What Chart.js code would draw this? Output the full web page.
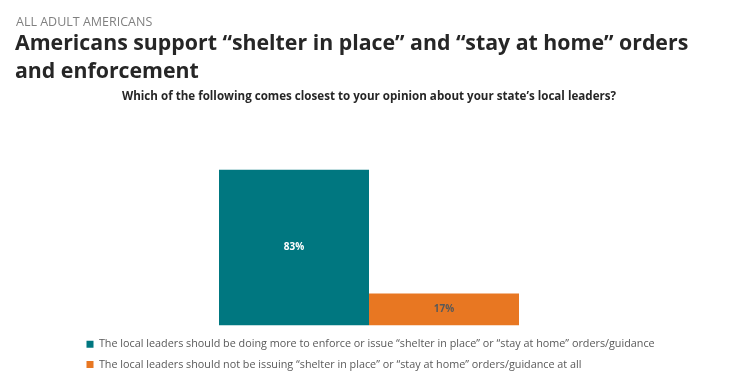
<!DOCTYPE html>
<html>
<head>
<meta charset="utf-8">
<script src="https://cdn.jsdelivr.net/npm/chart.js@4"></script>
<style>
  body { margin: 0; background: #fff; width: 741px; height: 380px; overflow: hidden; position: relative; font-family: "Open Sans", "Noto Sans", sans-serif; }
  #kicker { position: absolute; left: 16px; top: 13px; font-size: 12.5px; color: #808080; white-space: nowrap; }
  #title { position: absolute; left: 15px; top: 28px; font-size: 21.3px; line-height: 28px; font-weight: 700; color: #262626; white-space: nowrap; }
  #question { position: absolute; left: 122px; top: 88px; font-size: 11.6px; font-weight: 700; color: #262626; white-space: nowrap; }
  #wrap { position: absolute; left: 0; top: 0; width: 741px; height: 380px; }
</style>
</head>
<body>
<div id="wrap"><canvas id="opinionChart"></canvas></div>
<div id="kicker">ALL ADULT AMERICANS</div>
<div id="title">Americans support “shelter in place” and “stay at home” orders<br>and enforcement</div>
<div id="question">Which of the following comes closest to your opinion about your state’s local leaders?</div>
<script>
// chart data
const categories = ["All adult Americans"];
const seriesNames = [
    "The local leaders should be doing more to enforce or issue “shelter in place” or “stay at home” orders/guidance",
    "The local leaders should not be issuing “shelter in place” or “stay at home” orders/guidance at all"
];
const moreEnforcement = [83];
const notIssuing = [17];
const yTicks = [0, 100];

// draw the % labels in the middle of each bar
const barLabels = {
    id: "barLabels",
    afterDatasetsDraw(chart) {
        const ctx = chart.ctx;
        chart.data.datasets.forEach((ds, i) => {
            chart.getDatasetMeta(i).data.forEach((bar, j) => {
                ctx.save();
                ctx.font = "bold 10px 'Open Sans', sans-serif";
                ctx.fillStyle = i === 0 ? "#ffffff" : "#595959";
                ctx.textAlign = "center";
                ctx.textBaseline = "middle";
                ctx.fillText(ds.data[j] + "%", bar.x, (bar.y + bar.base) / 2);
                ctx.restore();
            });
        });
    }
};

const ctx = document.getElementById("opinionChart").getContext("2d");
new Chart(ctx, {
    type: "bar",
    data: {
        labels: categories,
        datasets: [
            { label: seriesNames[0], data: moreEnforcement, backgroundColor: "#007780" },
            { label: seriesNames[1], data: notIssuing, backgroundColor: "#E87722" }
        ]
    },
    options: {
        responsive: true,
        maintainAspectRatio: false,
        animation: false,
        layout: { padding: { top: 138, left: 77, right: 10, bottom: 0 } },
        datasets: { bar: { barPercentage: 1, categoryPercentage: 300 / 584 } },
        scales: {
            // hidden axes only used to reserve space round the plot
            x: {
                ticks: { display: false },
                grid: { display: false },
                border: { display: false },
                afterFit(s) { s.height = 4; }
            },
            y: {
                position: "right",
                min: yTicks[0],
                max: yTicks[1],
                ticks: { display: false },
                grid: { display: false },
                border: { display: false },
                afterFit(s) { s.width = 70; }
            }
        },
        plugins: {
            tooltip: { enabled: false },
            legend: {
                position: "bottom",
                align: "start",
                labels: {
                    boxWidth: 7,
                    boxHeight: 7,
                    padding: 9.5,
                    color: "#595959",
                    font: { family: "'Open Sans', sans-serif", size: 10.8 }
                }
            }
        }
    },
    plugins: [barLabels]
});
</script>
</body>
</html>
